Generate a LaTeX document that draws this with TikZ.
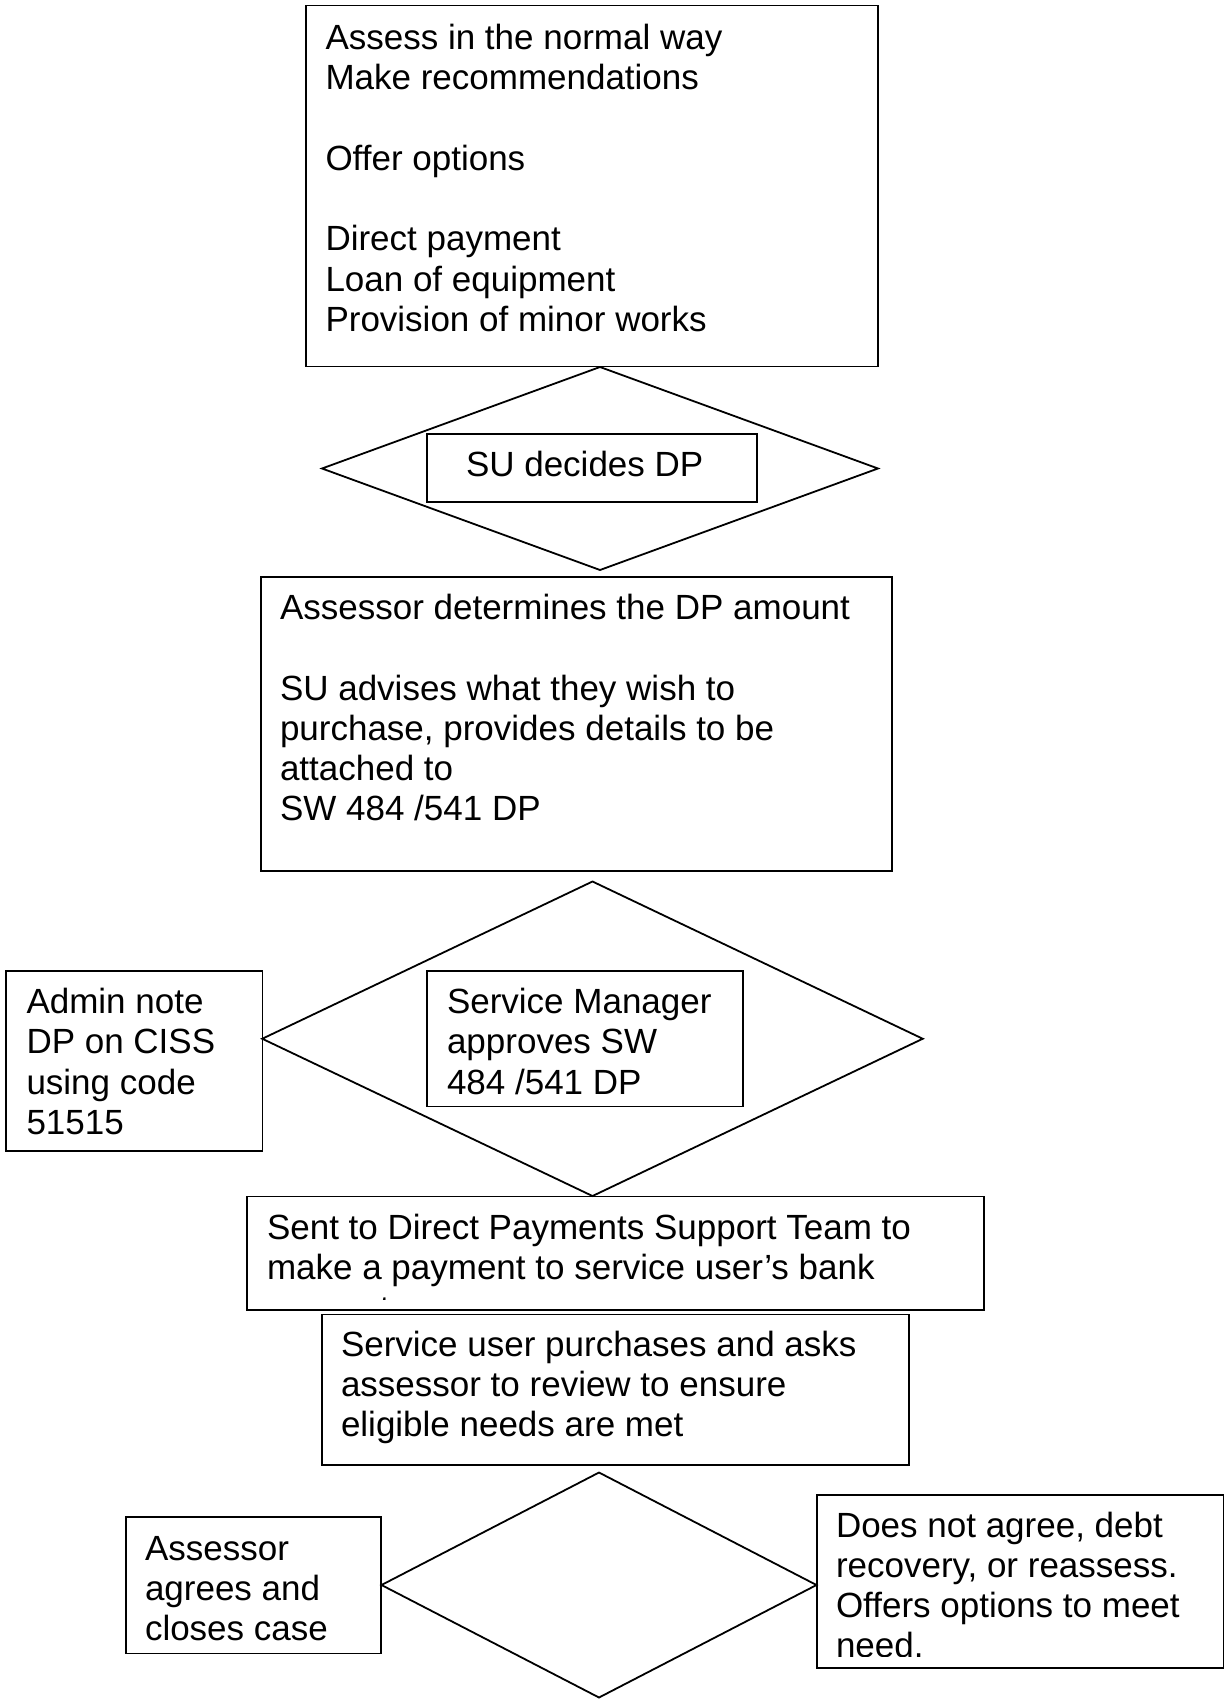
\documentclass[tikz,border=0pt]{standalone}
\usepackage{fontspec}
\setmainfont{Liberation Sans}
\usetikzlibrary{shapes.geometric,fit}
\begin{document}
\begin{tikzpicture}[x=0.5pt,y=-0.5pt,
  box/.style={draw, line width=0.9pt, inner sep=0pt, outer sep=0pt},
  dia/.style={draw, diamond, line width=0.9pt, inner sep=0pt, outer sep=0pt},
  txt/.style={anchor=north west, inner sep=0pt, outer sep=0pt, align=left, font=\fontsize{17.5}{20.125}\selectfont}]
\useasboundingbox (0,0) rectangle (1225,1702);
% boxes
\node[box, fit={(306,5.5) (878,366.5)}] (b1) {};
\node[dia, minimum width=278pt, minimum height=101.5pt] (d1) at (600,468.5) {};
\node[box, fit={(426.6,434) (757,502)}] (b1i) {};
\node[box, fit={(261,577) (892,871)}] (b2) {};
\node[dia, minimum width=330.25pt, minimum height=157.25pt] (d2) at (592.5,1038.75) {};
\node[box, fit={(6,970.6) (262.5,1151)}] (badmin) {};
\node[box, fit={(427,970.6) (743,1106.5)}] (b2i) {};
\node[box, fit={(247,1196.5) (983.6,1310)}] (bsent) {};
\node[box, fit={(322,1314.4) (908.6,1465)}] (buser) {};
\node[dia, minimum width=217.5pt, minimum height=112.5pt] (d3) at (599,1585) {};
\node[box, fit={(126,1517) (381,1653.5)}] (bagree) {};
\node[box, fit={(817,1495) (1223.4,1667.6)}] (bnot) {};
% texts
\node[txt] (t1) at (325.5,21.35) {\strut Assess in the normal way\\Make recommendations\\[20.125pt]Offer options\\[20.125pt]Direct payment\\Loan of equipment\\Provision of minor works};
\node[txt] (t1i) at (466,448.35) {\strut SU decides DP};
\node[txt] (t2) at (280,591.35) {\strut Assessor determines the DP amount\\[20.125pt]SU advises what they wish to\\purchase, provides details to be\\attached to\\SW 484 /541 DP};
\node[txt] (tadmin) at (26.5,985.35) {\strut Admin note\\DP on CISS\\using code\\51515};
\node[txt] (t2i) at (447,985.35) {\strut Service Manager\\approves SW\\484 /541 DP};
\begin{scope}
\clip (247,1196.5) rectangle (983.6,1299.5);
\node[txt] (tsent) at (267,1211.35) {\strut Sent to Direct Payments Support Team to\\make a payment to service user’s bank\\account};
\end{scope}
\node[txt] (tuser) at (341,1327.85) {\strut Service user purchases and asks\\assessor to review to ensure\\eligible needs are met};
\node[txt] (tagree) at (145,1531.85) {\strut Assessor\\agrees and\\closes case};
\begin{scope}
\clip (817,1495) rectangle (1223.4,1656.5);
\node[txt] (tnot) at (836,1508.85) {\strut Does not agree, debt\\recovery, or reassess.\\Offers options to meet\\need.};
\end{scope}
\end{tikzpicture}
\end{document}
